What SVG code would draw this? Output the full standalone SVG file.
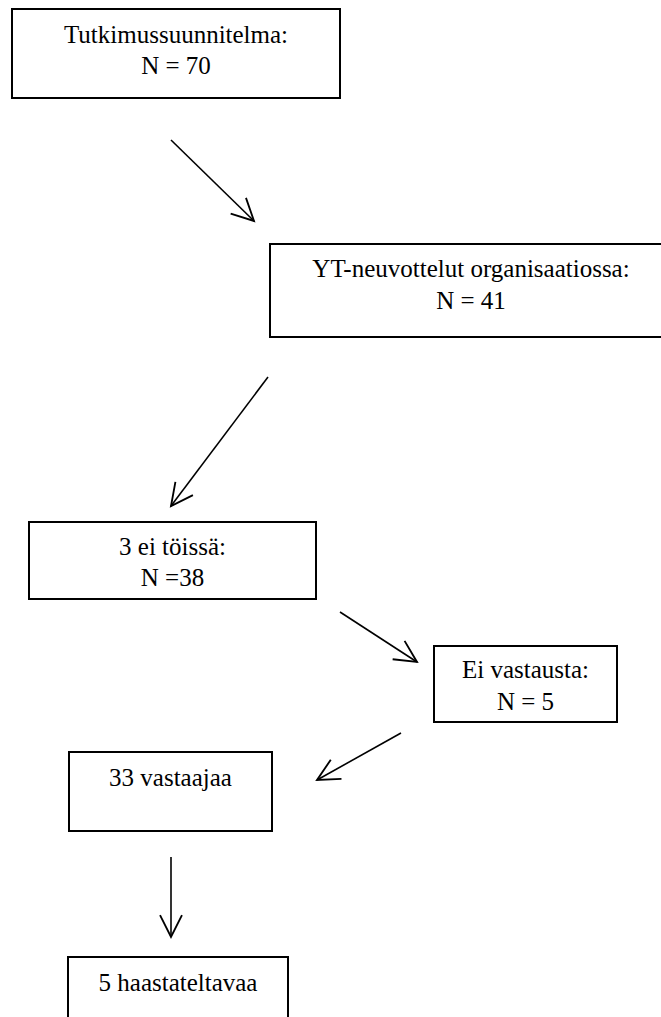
<svg xmlns="http://www.w3.org/2000/svg" width="661" height="1017" viewBox="0 0 661 1017">
<style>
.box{fill:#fff;stroke:#000;stroke-width:2}
.t{font-family:"Liberation Serif","Times New Roman",serif;font-size:25px;fill:#000;text-anchor:middle}
.c{stroke:#000;stroke-width:1.6;fill:none}
</style>
<defs>
<marker id="ah" markerUnits="userSpaceOnUse" markerWidth="30" markerHeight="30" viewBox="-22 -12 26 24" refX="0" refY="0" orient="auto">
<path d="M-19,-9.5 L0,0 L-19,9.5" fill="none" stroke="#000" stroke-width="1.6"/>
</marker>
</defs>
<rect width="661" height="1017" fill="#fff"/>
<g id="n1"><rect class="box" x="12" y="9" width="328" height="89"/><text class="t" x="176" y="43">Tutkimussuunnitelma:</text><text class="t" x="176" y="74">N = 70</text></g>
<g id="n2"><rect class="box" x="270" y="244" width="410" height="93"/><text class="t" x="471" y="277">YT-neuvottelut organisaatiossa:</text><text class="t" x="471" y="309">N = 41</text></g>
<g id="n3"><rect class="box" x="29" y="522" width="287" height="77"/><text class="t" x="172.5" y="555">3 ei töissä:</text><text class="t" x="172.5" y="586">N =38</text></g>
<g id="n4"><rect class="box" x="434" y="646" width="183" height="76"/><text class="t" x="525.5" y="678">Ei vastausta:</text><text class="t" x="525.5" y="710">N = 5</text></g>
<g id="n5"><rect class="box" x="69" y="752" width="203" height="79"/><text class="t" x="170.5" y="786">33 vastaajaa</text></g>
<g id="n6"><path class="box" d="M68,1030 V957 H288 V1030"/><text class="t" x="178" y="991">5 haastateltavaa</text></g>
<g id="connectors">
<line class="c" x1="171" y1="140" x2="254" y2="221" marker-end="url(#ah)"/>
<line class="c" x1="268" y1="377" x2="171" y2="506" marker-end="url(#ah)"/>
<line class="c" x1="340" y1="612" x2="417" y2="662" marker-end="url(#ah)"/>
<line class="c" x1="401" y1="733" x2="317" y2="780" marker-end="url(#ah)"/>
<line class="c" x1="171" y1="857" x2="171" y2="937" marker-end="url(#ah)"/>
</g>
</svg>
